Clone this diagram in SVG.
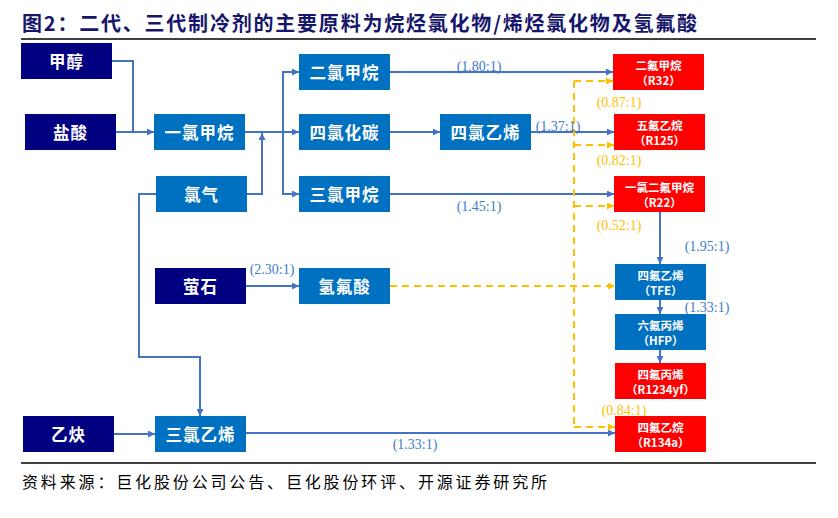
<svg xmlns="http://www.w3.org/2000/svg" width="838" height="518" viewBox="0 0 838 518">
<defs>
<marker id="ab" viewBox="0 0 8 8" refX="8" refY="4" markerWidth="7" markerHeight="7" markerUnits="userSpaceOnUse" orient="auto"><path d="M0,0 L8,4 L0,8 z" fill="#4472C4"/></marker>
<marker id="ao" viewBox="0 0 8 8" refX="8" refY="4" markerWidth="7" markerHeight="7" markerUnits="userSpaceOnUse" orient="auto"><path d="M0,0 L8,4 L0,8 z" fill="#FFC000"/></marker>
</defs>
<style>
.navy{fill:#000080}
.blue{fill:#0070C0}
.red{fill:#FF0000}
.t{font-family:"Noto Sans CJK SC","Noto Sans",sans-serif;font-weight:700;fill:#fff;text-anchor:middle;dominant-baseline:central}
.big{font-size:16.5px;letter-spacing:1px}
.sm{font-size:11.5px}
.c{fill:none;stroke:#4472C4;stroke-width:2}
.ca{fill:none;stroke:#4472C4;stroke-width:2;marker-end:url(#ab)}
.d{fill:none;stroke:#FFC000;stroke-width:2;stroke-dasharray:7,5}
.da{fill:none;stroke:#FFC000;stroke-width:2;stroke-dasharray:7,5;marker-end:url(#ao)}
.lb{font-family:"Liberation Serif",serif;font-size:14px;fill:#3D7CC9;text-anchor:middle}
.lo{font-family:"Liberation Serif",serif;font-size:14px;fill:#FFC000;text-anchor:middle}
</style>
<rect width="838" height="518" fill="#fff"/>
<text x="22" y="31" font-family="'Noto Sans CJK SC',sans-serif" font-weight="700" font-size="20" fill="#16166B" textLength="675" lengthAdjust="spacing">图2：二代、三代制冷剂的主要原料为烷烃氯化物/烯烃氯化物及氢氟酸</text>
<line x1="21" y1="39" x2="816" y2="39" stroke="#000" stroke-width="1.5"/>
<g id="connectors">
<path class="c" d="M112,61 H133 V132"/>
<path class="ca" d="M116,132 H154"/>
<path class="ca" d="M245,132 H299"/>
<path class="ca" d="M283,132 V72 H299"/>
<path class="ca" d="M283,132 V194 H299"/>
<path class="ca" d="M247,194 H262 V133"/>
<path class="ca" d="M156,194 H139 V357 H200 V416"/>
<path class="ca" d="M246,286 H299"/>
<path class="ca" d="M390,72 H613"/>
<path class="ca" d="M390,132 H440"/>
<path class="ca" d="M531,132 H614"/>
<path class="ca" d="M390,194 H614"/>
<path class="ca" d="M660,212 V264"/>
<path class="ca" d="M660,300 V314"/>
<path class="ca" d="M660,350 V363"/>
<path class="ca" d="M114,434 H155"/>
<path class="ca" d="M246,433 H615"/>
<path class="da" d="M390,286 H615"/>
<path class="d" d="M574,81 V427"/>
<path class="da" d="M574,81 H613"/>
<path class="da" d="M574,145 H614"/>
<path class="da" d="M574,206 H614"/>
<path class="da" d="M574,427 H615"/>
<text class="lb" x="479" y="71">(1.80:1)</text>
<text class="lb" x="558" y="131">(1.37:1)</text>
<text class="lb" x="479" y="211">(1.45:1)</text>
<text class="lb" x="272" y="274">(2.30:1)</text>
<text class="lb" x="707" y="251">(1.95:1)</text>
<text class="lb" x="707" y="312">(1.33:1)</text>
<text class="lb" x="415" y="449">(1.33:1)</text>
<text class="lo" x="619" y="107">(0.87:1)</text>
<text class="lo" x="619" y="165">(0.82:1)</text>
<text class="lo" x="619" y="230">(0.52:1)</text>
<text class="lo" x="624" y="415">(0.84:1)</text>
</g>
<g id="n-methanol"><rect class="navy" x="21" y="43" width="91" height="36"/><text class="t big" x="66.5" y="61">甲醇</text></g>
<g id="n-hcl"><rect class="navy" x="25" y="114" width="91" height="36"/><text class="t big" x="70.5" y="132">盐酸</text></g>
<g id="n-ch3cl"><rect class="blue" x="154" y="114" width="91" height="36"/><text class="t big" x="199.5" y="132">一氯甲烷</text></g>
<g id="n-cl2"><rect class="blue" x="156" y="176" width="91" height="36"/><text class="t big" x="201.5" y="194">氯气</text></g>
<g id="n-fluorite"><rect class="navy" x="155" y="268" width="91" height="36"/><text class="t big" x="200.5" y="286">萤石</text></g>
<g id="n-acetylene"><rect class="navy" x="23" y="416" width="91" height="36"/><text class="t big" x="68.5" y="434">乙炔</text></g>
<g id="n-tce"><rect class="blue" x="155" y="416" width="91" height="36"/><text class="t big" x="200.5" y="434">三氯乙烯</text></g>
<g id="n-dcm"><rect class="blue" x="299" y="54" width="91" height="36"/><text class="t big" x="344.5" y="72">二氯甲烷</text></g>
<g id="n-ccl4"><rect class="blue" x="299" y="114" width="91" height="36"/><text class="t big" x="344.5" y="132">四氯化碳</text></g>
<g id="n-chcl3"><rect class="blue" x="299" y="176" width="91" height="36"/><text class="t big" x="344.5" y="194">三氯甲烷</text></g>
<g id="n-hf"><rect class="blue" x="299" y="268" width="91" height="36"/><text class="t big" x="344.5" y="286">氢氟酸</text></g>
<g id="n-pce"><rect class="blue" x="440" y="114" width="91" height="36"/><text class="t big" x="485.5" y="132">四氯乙烯</text></g>
<g id="n-r32"><rect class="red" x="613" y="54" width="91" height="36"/><text class="t sm" x="658.5" y="65">二氟甲烷</text><text class="t sm" x="658.5" y="80">（R32）</text></g>
<g id="n-r125"><rect class="red" x="614" y="114" width="91" height="36"/><text class="t sm" x="659.5" y="125">五氟乙烷</text><text class="t sm" x="659.5" y="140">（R125）</text></g>
<g id="n-r22"><rect class="red" x="614" y="176" width="91" height="36"/><text class="t sm" x="659.5" y="187">一氯二氟甲烷</text><text class="t sm" x="659.5" y="202">（R22）</text></g>
<g id="n-tfe"><rect class="blue" x="615" y="264" width="91" height="36"/><text class="t sm" x="660.5" y="275">四氟乙烯</text><text class="t sm" x="660.5" y="290">（TFE）</text></g>
<g id="n-hfp"><rect class="blue" x="615" y="314" width="91" height="36"/><text class="t sm" x="660.5" y="325">六氟丙烯</text><text class="t sm" x="660.5" y="340">（HFP）</text></g>
<g id="n-r1234yf"><rect class="red" x="615" y="363" width="91" height="36"/><text class="t sm" x="660.5" y="374">四氟丙烯</text><text class="t sm" x="660.5" y="389">（R1234yf）</text></g>
<g id="n-r134a"><rect class="red" x="615" y="416" width="91" height="36"/><text class="t sm" x="660.5" y="427">四氟乙烷</text><text class="t sm" x="660.5" y="442">（R134a）</text></g>
<line x1="21" y1="463" x2="816" y2="463" stroke="#000" stroke-width="1.5"/>
<text x="22" y="488" font-family="'Noto Sans CJK SC',sans-serif" font-size="16" fill="#000" textLength="525" lengthAdjust="spacing">资料来源：巨化股份公司公告、巨化股份环评、开源证券研究所</text>
</svg>
